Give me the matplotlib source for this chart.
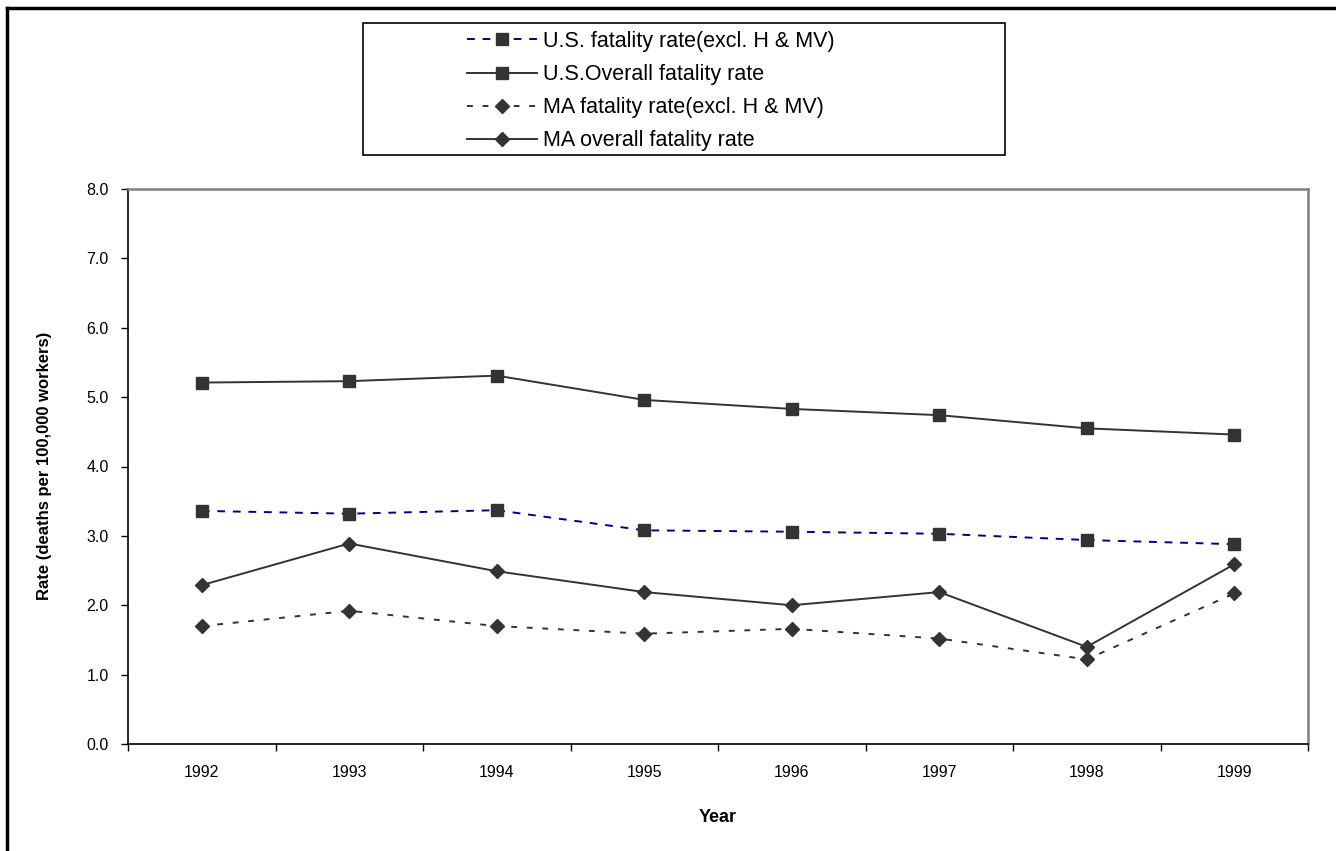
import matplotlib.pyplot as plt
import numpy as np
from matplotlib.lines import Line2D
from matplotlib.patches import Rectangle

plt.rcParams['font.family'] = ['Liberation Sans', 'DejaVu Sans']

years = ['1992', '1993', '1994', '1995', '1996', '1997', '1998', '1999']
us_excl = [3.36, 3.32, 3.37, 3.08, 3.06, 3.03, 2.94, 2.88]
us_overall = [5.21, 5.23, 5.31, 4.96, 4.83, 4.74, 4.55, 4.46]
ma_excl = [1.70, 1.92, 1.70, 1.59, 1.66, 1.52, 1.22, 2.17]
ma_overall = [2.29, 2.89, 2.49, 2.19, 2.00, 2.19, 1.40, 2.59]
yticks = [0, 1, 2, 3, 4, 5, 6, 7, 8]

W, H = 1336, 851
fig = plt.figure(figsize=(W / 100, H / 100), dpi=100)
ax = fig.add_axes([128 / W, 1 - 744 / H, (1308 - 128) / W, (744 - 189) / H])

x = np.arange(len(years))
dark = '#333333'

ax.plot(x, us_excl, color='#000080', lw=1.4, dashes=(4, 4),
        marker='s', ms=9, mfc=dark, mec=dark, label='U.S. fatality rate(excl. H & MV)')
ax.plot(x, us_overall, color=dark, lw=1.4,
        marker='s', ms=9, mfc=dark, mec=dark, label='U.S.Overall fatality rate')
ax.plot(x, ma_excl, color=dark, lw=1.4, dashes=(3, 5),
        marker='D', ms=7.5, mfc=dark, mec=dark, label='MA fatality rate(excl. H & MV)')
ax.plot(x, ma_overall, color=dark, lw=1.4,
        marker='D', ms=7.5, mfc=dark, mec=dark, label='MA overall fatality rate')

ax.set_xlim(-0.5, len(years) - 0.5)
ax.set_ylim(0, 8)
ax.set_yticks(yticks)
ax.set_yticklabels(['%.1f' % v for v in yticks], fontsize=11.5)
ax.set_xticks(np.arange(-0.5, len(years), 1))
ax.set_xticklabels([])
ax.set_xticks(x, minor=True)
ax.set_xticklabels(years, minor=True, fontsize=11.5)
ax.tick_params(axis='x', which='major', length=5, width=1, direction='out')
ax.tick_params(axis='x', which='minor', length=0, pad=15)
ax.tick_params(axis='y', length=5, width=1, direction='out', pad=9)

for s in ['top', 'right']:
    ax.spines[s].set_color('#808080')
    ax.spines[s].set_linewidth(1.8)
for s in ['left', 'bottom']:
    ax.spines[s].set_color('black')
    ax.spines[s].set_linewidth(1.2)

fig.text(45 / W, 1 - 466 / H, 'Rate (deaths per 100,000 workers)', rotation=90,
         ha='center', va='center', fontsize=12, fontweight='bold')
fig.text(718 / W, 1 - 818 / H, 'Year', ha='center', va='center',
         fontsize=13, fontweight='bold')

# legend box
fig.patches.append(Rectangle((363 / W, 1 - 155 / H), (1005 - 363) / W, (155 - 23) / H,
                             transform=fig.transFigure, fill=False, ec='black', lw=1.2))
fig.legend(loc='upper left', bbox_to_anchor=(467 / W, 1 - 31 / H), frameon=False,
           fontsize=15.5, handlelength=3.25, handletextpad=0.28, labelspacing=0.56,
           borderpad=0, borderaxespad=0)

# outer border (top and left)
fig.add_artist(Line2D([7 / W, 1], [1 - 8 / H, 1 - 8 / H], transform=fig.transFigure,
                      color='black', lw=2.5))
fig.add_artist(Line2D([7 / W, 7 / W], [0, 1 - 8 / H], transform=fig.transFigure,
                      color='black', lw=2.5))

fig.savefig('out.png', dpi=100)
